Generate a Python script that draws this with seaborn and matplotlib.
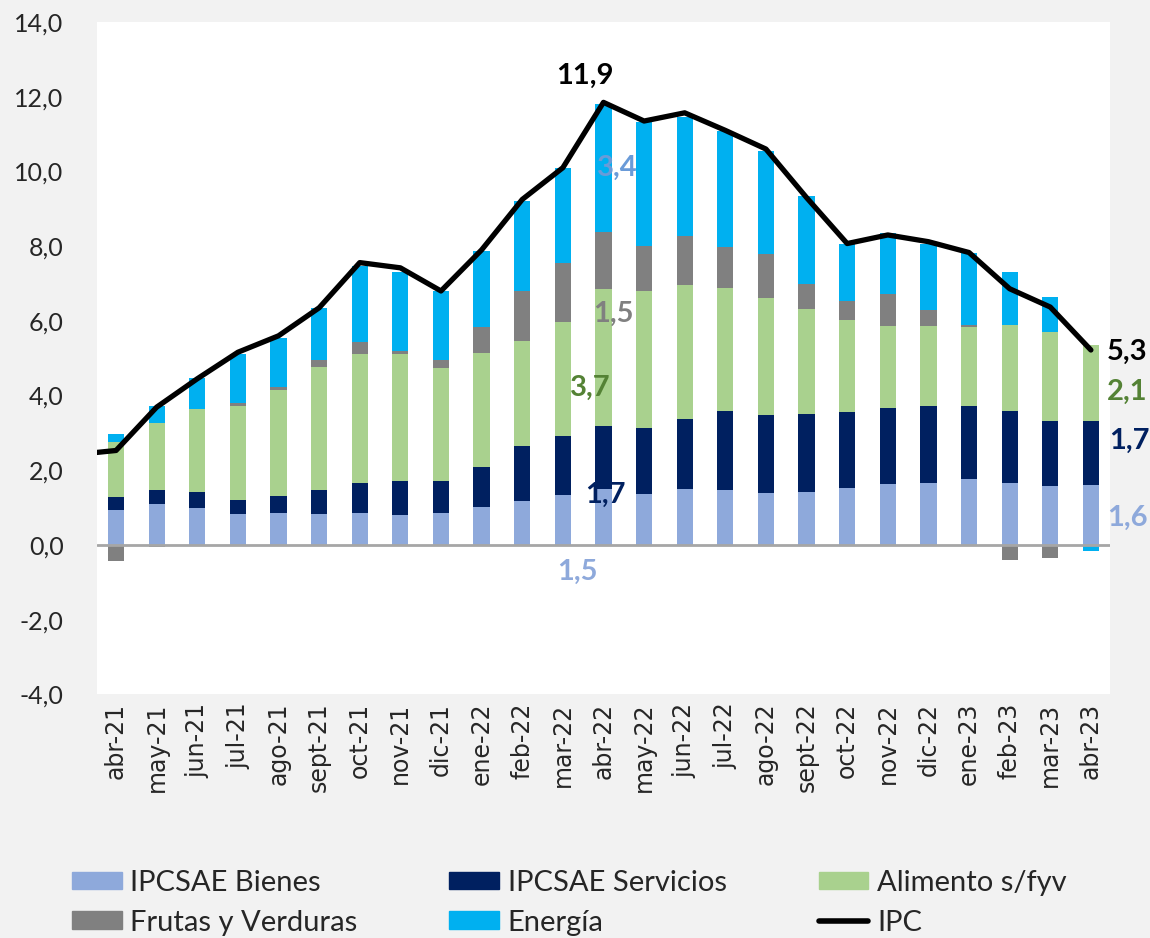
import numpy as np
import matplotlib
matplotlib.use("Agg")
import matplotlib.pyplot as plt
import seaborn as sns
from matplotlib.patches import Patch
from matplotlib.lines import Line2D

# --- data ---
meses = ["abr-21", "may-21", "jun-21", "jul-21", "ago-21", "sept-21", "oct-21",
         "nov-21", "dic-21", "ene-22", "feb-22", "mar-22", "abr-22", "may-22",
         "jun-22", "jul-22", "ago-22", "sept-22", "oct-22", "nov-22", "dic-22",
         "ene-23", "feb-23", "mar-23", "abr-23"]

bienes = [0.94, 1.10, 1.00, 0.82, 0.85, 0.84, 0.86, 0.81, 0.86, 1.03, 1.19, 1.35,
          1.49, 1.37, 1.49, 1.46, 1.40, 1.42, 1.53, 1.63, 1.67, 1.76, 1.65, 1.57, 1.61]
servicios = [0.34, 0.38, 0.41, 0.39, 0.47, 0.62, 0.79, 0.90, 0.85, 1.06, 1.45, 1.58,
             1.69, 1.77, 1.89, 2.12, 2.08, 2.08, 2.02, 2.03, 2.06, 1.96, 1.95, 1.76, 1.70]
alimento = [1.47, 1.78, 2.22, 2.51, 2.82, 3.30, 3.47, 3.40, 3.04, 3.04, 2.83, 3.05,
            3.66, 3.65, 3.57, 3.29, 3.14, 2.83, 2.46, 2.19, 2.12, 2.11, 2.29, 2.38, 2.05]
frutas = [-0.43, -0.06, -0.03, 0.08, 0.08, 0.20, 0.32, 0.08, 0.21, 0.70, 1.32, 1.57,
          1.53, 1.22, 1.33, 1.11, 1.17, 0.66, 0.52, 0.86, 0.45, 0.05, -0.39, -0.36, 0.0]
energia = [0.21, 0.47, 0.85, 1.32, 1.33, 1.38, 2.04, 2.11, 1.83, 2.05, 2.43, 2.55,
           3.44, 3.31, 3.17, 3.11, 2.76, 2.34, 1.52, 1.65, 1.76, 1.94, 1.43, 0.94, -0.17]
ipc = [2.53, 3.69, 4.45, 5.16, 5.60, 6.35, 7.56, 7.42, 6.80, 7.90, 9.25, 10.10,
       11.85, 11.35, 11.57, 11.10, 10.60, 9.30, 8.07, 8.30, 8.12, 7.83, 6.86, 6.37, 5.22]
ipc_mar21 = 2.42  # previous month, only its stub shows at the left edge

series = ["IPCSAE Bienes", "IPCSAE Servicios", "Alimento s/fyv",
          "Frutas y Verduras", "Energía"]
colores = ["#8EA9DB", "#002060", "#A9D18E", "#808080", "#00B0F0"]

sns.set_theme(style="white")
plt.rcParams["font.family"] = ["Lato", "DejaVu Sans"]

fig = plt.figure(figsize=(11.5, 9.38), dpi=100, facecolor="#F2F2F2")
ax = fig.add_axes([0.0843, 0.2597, 0.8809, 0.7168])
ax.set_facecolor("white")

# stacked bars, positives up from zero and negatives down from zero (Excel style)
pos_base = np.zeros(len(meses))
neg_base = np.zeros(len(meses))
for nombre, vals, col in zip(series, [bienes, servicios, alimento, frutas, energia], colores):
    v = np.array(vals, dtype=float)
    base = np.where(v >= 0, pos_base, neg_base)
    sns.barplot(x=meses, y=v, bottom=base, color=col, saturation=1, width=0.4,
                errorbar=None, order=meses, ax=ax, linewidth=0)
    pos_base = pos_base + np.clip(v, 0, None)
    neg_base = neg_base + np.clip(v, None, 0)

ax.axhline(0, color="#A6A6A6", lw=2, zorder=1)

sns.lineplot(x=np.arange(-1, len(meses)), y=[ipc_mar21] + ipc, color="black",
             lw=3.8, sort=False, ax=ax, zorder=5)

ax.set_xlim(-0.47, len(meses) - 0.53)
ax.set_ylim(-4, 14)
ax.set_yticks(np.arange(-4, 15, 2))
ax.set_yticklabels([f"{t:.1f}".replace(".", ",") for t in np.arange(-4, 15, 2)],
                   fontsize=18)
ax.set_xticks(range(len(meses)))
ax.set_xticklabels(meses, rotation=90)
for t in ax.get_xticklabels():
    t.set_fontfamily("DejaVu Sans")
    t.set_fontsize(17)
ax.tick_params(axis="y", length=0, pad=24)
ax.tick_params(axis="x", length=0, pad=6)
ax.set_xlabel("")
ax.set_ylabel("")
for s in ax.spines.values():
    s.set_visible(False)

# data labels
lab = dict(fontsize=21, fontweight="bold", ha="center", va="center", clip_on=False, zorder=6)
ax.text(11.55, 12.55, "11,9", color="black", **lab)
ax.text(12.34, 10.1, "3,4", color="#6A9BD8", **lab)
ax.text(12.24, 6.2, "1,5", color="#808080", **lab)
ax.text(11.67, 4.2, "3,7", color="#548235", **lab)
ax.text(12.04, 1.33, "1,7", color="#002060", **lab)
ax.text(11.35, -0.73, "1,5", color="#8EA9DB", **lab)
ax.text(24.9, 5.17, "5,3", color="black", **lab)
ax.text(24.9, 4.1, "2,1", color="#548235", **lab)
ax.text(24.95, 2.8, "1,7", color="#002060", **lab)
ax.text(24.9, 0.72, "1,6", color="#8EA9DB", **lab)

# legend: 3 columns x 2 rows
handles = [Patch(color=colores[0]), Patch(color=colores[3]),
           Patch(color=colores[1]), Patch(color=colores[4]),
           Patch(color=colores[2]), Line2D([], [], color="black", lw=4)]
labels = [series[0], series[3], series[1], series[4], series[2], "IPC"]
fig.legend(handles, labels, ncol=3, loc="upper left", bbox_to_anchor=(0.0626, 0.0727),
           frameon=False, fontsize=21, handlelength=1.7, handleheight=0.55,
           handletextpad=0.3, columnspacing=3.15, labelspacing=0.47,
           borderpad=0, borderaxespad=0)

fig.savefig("out.png", dpi=100, facecolor=fig.get_facecolor())
